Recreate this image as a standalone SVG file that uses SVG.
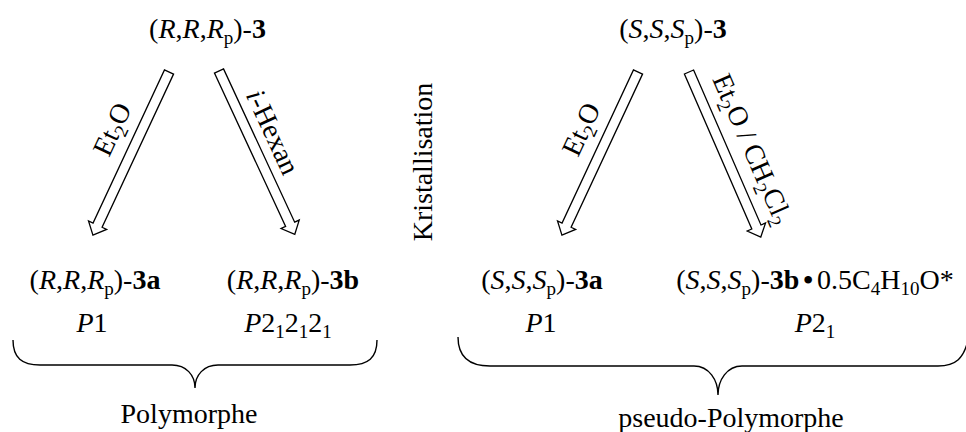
<svg xmlns="http://www.w3.org/2000/svg" xmlns:xlink="http://www.w3.org/1999/xlink" width="966" height="432" viewBox="0 0 966 432">
<style type="text/css">
text{font-family:"Liberation Serif","Times New Roman",Tinos,Times,"DejaVu Serif",serif;font-size:28px;fill:#000}
.i{font-style:italic}
.b{font-weight:bold}
.s{font-size:19px}
.arr{fill:#fff;stroke:#000;stroke-width:1.3;stroke-linejoin:miter}
.br{fill:none;stroke:#000;stroke-width:1.4}
</style>
<defs>
<path id="arrow" class="arr" d="M0,-5 L169,-5 L169,-10 L180,0 L169,10 L169,5 L0,5 Z"/>
</defs>
<rect width="966" height="432" fill="#fff"/>
<g id="connectors">
<use href="#arrow" xlink:href="#arrow" transform="translate(169,72) rotate(115)"/>
<use href="#arrow" xlink:href="#arrow" transform="translate(219,71) rotate(65.1)"/>
<use href="#arrow" xlink:href="#arrow" transform="translate(638,72) rotate(115)"/>
<use href="#arrow" xlink:href="#arrow" transform="translate(689,72) rotate(66.5)"/>
<text text-anchor="middle" transform="translate(120.5,133.2) rotate(-65)">Et<tspan class="s" dy="6">2</tspan><tspan dy="-6">O</tspan></text>
<text text-anchor="middle" transform="translate(264.5,135.8) rotate(65.1)"><tspan class="i">i</tspan>-Hexan</text>
<text text-anchor="middle" transform="translate(589.5,133.2) rotate(-65)">Et<tspan class="s" dy="6">2</tspan><tspan dy="-6">O</tspan></text>
<text text-anchor="middle" transform="translate(744,152.6) rotate(66.5)">Et<tspan class="s" dy="6">2</tspan><tspan dy="-6">O / CH</tspan><tspan class="s" dy="6">2</tspan><tspan dy="-6">Cl</tspan><tspan class="s" dy="6">2</tspan></text>
</g>
<g id="node-RRR3">
<text x="207.5" y="38" text-anchor="middle">(<tspan class="i">R</tspan>,<tspan class="i">R</tspan>,<tspan class="i">R</tspan><tspan class="s" dy="6">p</tspan><tspan dy="-6">)-</tspan><tspan class="b">3</tspan></text>
</g>
<g id="node-SSS3">
<text x="673" y="38" text-anchor="middle">(<tspan class="i">S</tspan>,<tspan class="i">S</tspan>,<tspan class="i">S</tspan><tspan class="s" dy="6">p</tspan><tspan dy="-6">)-</tspan><tspan class="b">3</tspan></text>
</g>
<g id="kristallisation">
<text text-anchor="middle" transform="translate(432,162) rotate(-90)">Kristallisation</text>
</g>
<g id="node-RRR3a">
<text x="95" y="289" text-anchor="middle">(<tspan class="i">R</tspan>,<tspan class="i">R</tspan>,<tspan class="i">R</tspan><tspan class="s" dy="6">p</tspan><tspan dy="-6">)-</tspan><tspan class="b">3a</tspan></text>
<text x="92" y="332" text-anchor="middle"><tspan class="i">P</tspan>1</text>
</g>
<g id="node-RRR3b">
<text x="293" y="289" text-anchor="middle">(<tspan class="i">R</tspan>,<tspan class="i">R</tspan>,<tspan class="i">R</tspan><tspan class="s" dy="6">p</tspan><tspan dy="-6">)-</tspan><tspan class="b">3b</tspan></text>
<text x="288" y="332" text-anchor="middle"><tspan class="i">P</tspan>2<tspan class="s" dy="6">1</tspan><tspan dy="-6">2</tspan><tspan class="s" dy="6">1</tspan><tspan dy="-6">2</tspan><tspan class="s" dy="6">1</tspan></text>
</g>
<g id="node-SSS3a">
<text x="542" y="289" text-anchor="middle">(<tspan class="i">S</tspan>,<tspan class="i">S</tspan>,<tspan class="i">S</tspan><tspan class="s" dy="6">p</tspan><tspan dy="-6">)-</tspan><tspan class="b">3a</tspan></text>
<text x="541" y="332" text-anchor="middle"><tspan class="i">P</tspan>1</text>
</g>
<g id="node-SSS3b">
<text x="815" y="289" text-anchor="middle">(<tspan class="i">S</tspan>,<tspan class="i">S</tspan>,<tspan class="i">S</tspan><tspan class="s" dy="6">p</tspan><tspan dy="-6">)-</tspan><tspan class="b">3b</tspan><tspan class="b" dx="4">•</tspan><tspan dx="4">0.5C</tspan><tspan class="s" dy="6">4</tspan><tspan dy="-6">H</tspan><tspan class="s" dy="6">10</tspan><tspan dy="-6">O*</tspan></text>
<text x="815" y="332" text-anchor="middle"><tspan class="i">P</tspan>2<tspan class="s" dy="6">1</tspan></text>
</g>
<g id="polymorphe">
<path class="br" d="M13,340 C13,358 22,365 40,365 L172,365 C186,365 195,375 195,388 C195,375 204,365 218,365 L350,365 C368,365 377,358 377,340"/>
<text x="189" y="423" text-anchor="middle">Polymorphe</text>
</g>
<g id="pseudo-polymorphe">
<path class="br" d="M458,337 C458,356 468,366 490,366 L694,366 C709,366 718,380 718,395 C718,380 727,366 742,366 L938,366 C956,366 964,358 968,340"/>
<text x="731" y="427" text-anchor="middle">pseudo-Polymorphe</text>
</g>
</svg>
